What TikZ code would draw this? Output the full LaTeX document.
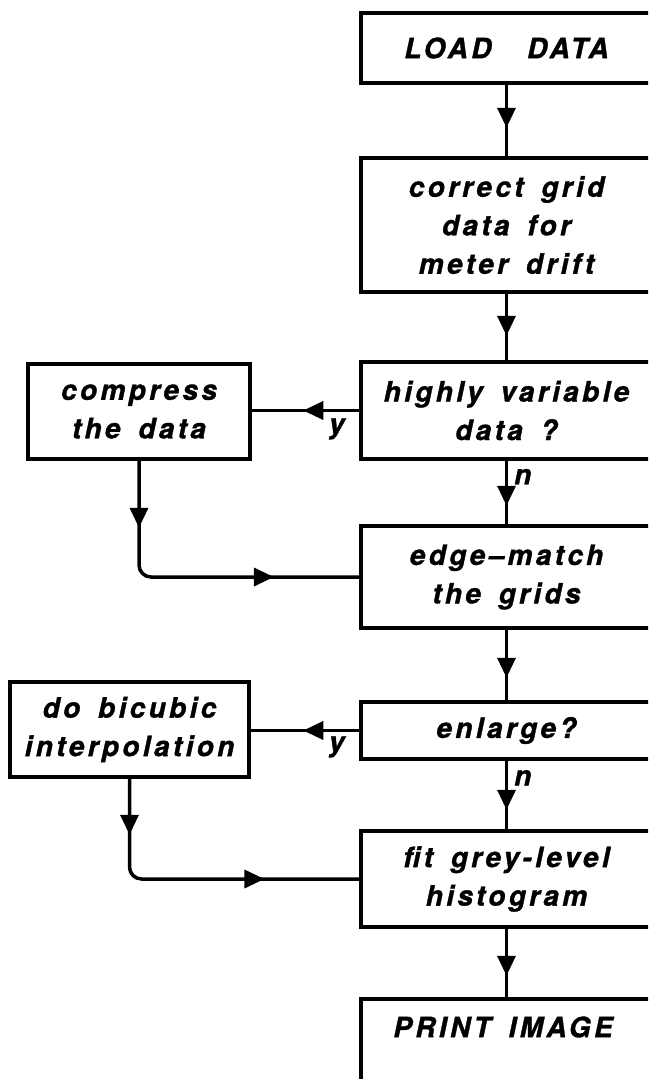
\documentclass[tikz,border=0pt]{standalone}
\usepackage{fontspec}
\setmainfont{TeX Gyre Heros}[LetterSpace=12, WordSpace=1.6, BoldItalicFeatures={FakeBold=1.2}]
\usetikzlibrary{arrows.meta,decorations.markings}
\newcommand{\bxfont}{\fontsize{28}{38.5}\selectfont\bfseries\itshape}
\tikzset{
  box/.style={draw, line width=3.5pt, inner sep=0pt, align=center, font=\bxfont},
  mainbox/.style={box, minimum width=291pt},
  conn/.style={line width=3.5pt},
  tipA/.style={postaction={decorate}, decoration={markings,
      mark=at position #1 with {\arrow{Triangle[width=18pt,length=20pt]}}}},
  tipB/.style 2 args={postaction={decorate}, decoration={markings,
      mark=at position #1 with {\arrow{Triangle[width=18pt,length=20pt]}},
      mark=at position #2 with {\arrow{Triangle[width=18pt,length=20pt]}}}},
  lbl/.style={font=\bxfont, inner sep=0pt},
}
\begin{document}
\begin{tikzpicture}[x=1pt, y=-1pt]
\useasboundingbox (0,0) rectangle (648,1079);
\fill[white] (0,0) rectangle (648,1079);
\clip (0,0) rectangle (648,1079);

% main column
\node[mainbox, minimum height=70pt]  (b1) at (506.5,48)    {LOAD\ \ DATA};
\node[mainbox, minimum height=134pt] (b2) at (506.5,225)   {correct grid\\data for\\meter drift};
\node[mainbox, minimum height=97pt]  (b3) at (506.5,410.5) {highly variable\\data ?};
\node[mainbox, minimum height=102pt] (b4) at (506.5,577)   {edge--match\\the grids};
\node[mainbox, minimum height=57pt]  (b5) at (506.5,730.5) {enlarge?};
\node[mainbox, minimum height=96pt]  (b6) at (506.5,879)   {fit grey-level\\histogram};
\node[mainbox, minimum height=91pt]  (b7) at (506.5,1044.5) {};
\node[lbl] (b7t) at (503,1027) {PRINT IMAGE};

% side boxes
\node[box, minimum width=222pt, minimum height=95pt] (cmp) at (139,411.5) {compress\\the data};
\node[box, minimum width=239pt, minimum height=95pt] (bic) at (129.5,729.5) {do bicubic\\interpolation};

% connectors
\draw[conn, tipA=43pt] (b1.south) -- (b2.north);
\draw[conn, tipA=42pt] (b2.south) -- (b3.north);
\draw[conn, tipA=45pt] (b3.south) -- node[lbl, pos=0.25, anchor=west, xshift=6pt] {n} (b4.north);
\draw[conn, tipA=48pt] (b4.south) -- (b5.north);
\draw[conn, tipA=49pt] (b5.south) -- node[lbl, pos=0.25, anchor=west, xshift=6pt] {n} (b6.north);
\draw[conn, tipA=47pt] (b6.south) -- (b7.north);

\draw[conn, tipA=56pt] (b3.west) -- node[lbl, pos=0.12, anchor=north east, yshift=-6pt] {y} (b3.west -| cmp.east);
\draw[conn, tipA=56pt] (b5.west) -- node[lbl, pos=0.12, anchor=north east, yshift=-4pt] {y} (b5.west -| bic.east);

\draw[conn, rounded corners=12pt, tipB={67pt}{246pt}] (cmp.south) |- (b4.west);
\draw[conn, rounded corners=12pt, tipB={56pt}{230pt}] (bic.south) |- (b6.west);
\end{tikzpicture}
\end{document}
